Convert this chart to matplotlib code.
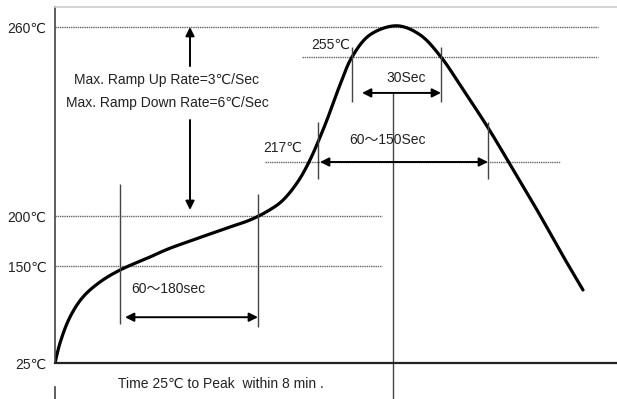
import numpy as np
import matplotlib.pyplot as plt

# reflow profile (schematic time units, temperature in degC)
profile_time = [0, 5, 15, 28, 45, 65, 95, 113, 138, 172, 195, 213, 227, 242, 254,
                270, 285, 297, 315, 342, 365, 386, 405, 432, 453, 482, 508, 528]
profile_temp = [25, 50.8, 84.3, 110.1, 129.4, 144.8, 159, 167, 176, 188, 196, 201.6,
                204.7, 210.4, 217, 230.4, 244.9, 255, 258.7, 260.2, 258.7, 255, 244.9,
                230, 217.4, 201.9, 160, 119.1]

temp_marks = [25, 150, 200, 260]
temp_mark_labels = ['25℃', '150℃', '200℃', '260℃']

# key times on the profile
soak_start, soak_end = 65, 203
liquidus_start, liquidus_end = 263, 433
peak_start, peak_end = 297, 386
peak_time = 338

# schematic (non-proportional) vertical spacing of the temperature levels
knot_temp = [-100, 25, 150, 200, 217, 255, 260, 400]
knot_pos = [-97, 0, 97, 147, 201, 306, 336, 1176]


def fwd(t):
    return np.interp(t, knot_temp, knot_pos)


def inv(p):
    return np.interp(p, knot_pos, knot_temp)


def centripetal_cr(x, y, n=30):
    # centripetal Catmull-Rom through the points
    pts = np.column_stack([x, y]).astype(float)
    pts = np.vstack([2 * pts[0] - pts[1], pts, 2 * pts[-1] - pts[-2]])
    out = []
    for i in range(1, len(pts) - 2):
        p0, p1, p2, p3 = pts[i - 1:i + 3]
        t0 = 0.0
        t1 = t0 + np.linalg.norm(p1 - p0) ** 0.5
        t2 = t1 + np.linalg.norm(p2 - p1) ** 0.5
        t3 = t2 + np.linalg.norm(p3 - p2) ** 0.5
        t = np.linspace(t1, t2, n, endpoint=False)[:, None]
        a1 = (t1 - t) / (t1 - t0) * p0 + (t - t0) / (t1 - t0) * p1
        a2 = (t2 - t) / (t2 - t1) * p1 + (t - t1) / (t2 - t1) * p2
        a3 = (t3 - t) / (t3 - t2) * p2 + (t - t2) / (t3 - t2) * p3
        b1 = (t2 - t) / (t2 - t0) * a1 + (t - t0) / (t2 - t0) * a2
        b2 = (t3 - t) / (t3 - t1) * a2 + (t - t1) / (t3 - t1) * a3
        out.append((t2 - t) / (t2 - t1) * b1 + (t - t1) / (t2 - t1) * b2)
    out.append(pts[-2][None, :])
    return np.vstack(out)


plt.rcParams['font.family'] = ['Liberation Sans', 'DejaVu Sans', 'Noto Sans CJK SC']

fig = plt.figure(figsize=(6.17, 3.99), dpi=100)
ax = fig.add_axes([55 / 617, 36 / 399, 562 / 617, 356 / 399])
ax.set_yscale('function', functions=(fwd, inv))
ax.set_xlim(0, 562)
ax.set_ylim(25, inv(356))

ax.spines['right'].set_visible(False)
ax.spines['top'].set_color('#cccccc')
ax.spines['top'].set_linewidth(1.2)
ax.spines['left'].set_color('#444444')
ax.spines['left'].set_linewidth(1.2)
ax.spines['bottom'].set_color('#222222')
ax.spines['bottom'].set_linewidth(1.6)

ax.set_xticks([])
ax.set_yticks(temp_marks)
ax.set_yticklabels(temp_mark_labels)
ax.yaxis.set_minor_locator(plt.NullLocator())
ax.tick_params(axis='y', length=0, pad=6, labelsize=10, labelcolor='#222222')

# dotted reference levels
dot = dict(color='#666666', lw=1.0, linestyle=(0, (1, 0.6)))
ax.hlines(260, 0, 543, **dot)
ax.hlines(255, 247, 543, **dot)
ax.hlines(217, 210, 505, **dot)
ax.hlines([200, 150], 0, 327, **dot)

# profile curve, smoothed in display space
smooth = centripetal_cr(profile_time, fwd(np.array(profile_temp)))
ax.plot(smooth[:, 0], inv(smooth[:, 1]), color='black', lw=2.3, solid_capstyle='round')

# vertical markers
mark = dict(color='#444444', lw=1.0)
ax.vlines(soak_start, 75, 210, **mark)
ax.vlines(soak_end, 71, 207, **mark)
ax.vlines([liquidus_start, liquidus_end], 211.5, 231.5, **mark)
ax.vlines([peak_start, peak_end], 238.7, 256.7, **mark)

frac = lambda t: (fwd(t) - fwd(25)) / (fwd(inv(356)) - fwd(25))
ax.axvline(peak_time, ymin=-0.105, ymax=frac(242), color='#444444', lw=1.0, clip_on=False)
ax.axvline(0, ymin=-0.105, ymax=-0.067, color='#444444', lw=1.2, clip_on=False)

arrow = dict(arrowstyle='-|>', color='black', lw=1.4, mutation_scale=13, shrinkA=0, shrinkB=0)
double = dict(arrowstyle='<|-|>', color='black', lw=1.4, mutation_scale=13, shrinkA=0, shrinkB=0)

ax.annotate('', xy=(135, 260), xytext=(135, 251.7), arrowprops=arrow)
ax.annotate('', xy=(135, 201.9), xytext=(135, 232.2), arrowprops=arrow)
ax.annotate('', xy=(70, 84), xytext=(soak_end, 84), arrowprops=double)
ax.annotate('', xy=(307, 242), xytext=(peak_end, 242), arrowprops=double)
ax.annotate('', xy=(265, 217), xytext=(liquidus_end, 217), arrowprops=double)

txt = dict(fontsize=10, color='#222222')
ax.text(112, 246.7, 'Max. Ramp Up Rate=3℃/Sec', ha='center', va='center', **txt)
ax.text(112, 238.4, 'Max. Ramp Down Rate=6℃/Sec', ha='center', va='center', **txt)
ax.text(113, 120.4, '60～180sec', ha='center', va='center', **txt)
ax.text(351, 247.5, '30Sec', ha='center', va='center', **txt)
ax.text(333, 225, '60～150Sec', ha='center', va='center', **txt)
ax.text(295, 257, '255℃', ha='right', va='center', **txt)
ax.text(247, 222, '217℃', ha='right', va='center', **txt)
ax.text(63, -0.059, 'Time 25℃ to Peak  within 8 min .', ha='left', va='center',
        transform=ax.get_xaxis_transform(), **txt)

fig.savefig('out.png', dpi=100)
